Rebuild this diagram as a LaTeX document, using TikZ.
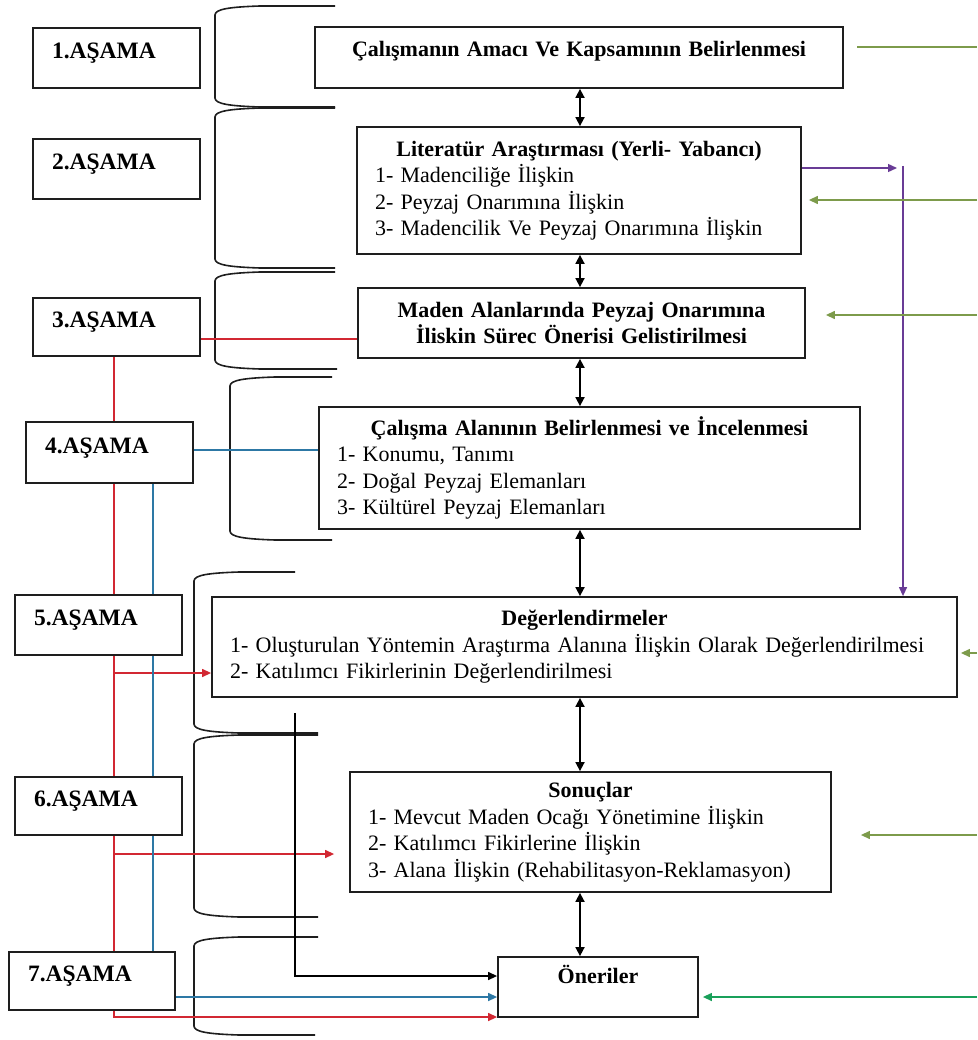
\documentclass[tikz,border=0pt]{standalone}
\usepackage{fontspec}
\setmainfont{Liberation Serif}
\usetikzlibrary{arrows.meta,backgrounds}
\definecolor{boxline}{RGB}{30,30,30}
\definecolor{redc}{RGB}{210,40,50}
\definecolor{bluec}{RGB}{45,120,165}
\definecolor{purc}{RGB}{105,60,150}
\definecolor{olivec}{RGB}{125,155,75}
\definecolor{greenc}{RGB}{25,160,90}
\newcommand\mybrk[5]{%
  \draw[brk] (#4,#2) -- (#1+45,#2) .. controls (#1+15,#2+1) and (#1,#2+3) .. (#1,#2+9)
    -- (#1,#3-9) .. controls (#1,#3-3) and (#1+15,#3-1) .. (#1+45,#3) -- (#5,#3);}
\begin{document}
\begin{tikzpicture}[x=1pt,y=-1pt,
  box/.style={draw=boxline, line width=1.8pt, fill=white, rectangle, inner sep=0pt},
  stage/.style={box, font=\fontsize{23.5}{27}\selectfont\bfseries, align=left,
     text width=129pt, inner xsep=19pt},
  mainbox/.style={box, font=\fontsize{22}{26.5}\selectfont, inner xsep=18pt},
  brk/.style={draw=boxline, line width=1.6pt},
  dbl/.style={draw=black, line width=1.7pt, {Triangle[length=9pt,width=9pt]}-{Triangle[length=9pt,width=9pt]}},
  redl/.style={draw=redc, line width=1.3pt},
  redarr/.style={redl, -{Triangle[length=9pt,width=8pt]}},
  bluel/.style={draw=bluec, line width=1.3pt},
  bluearr/.style={bluel, -{Triangle[length=9pt,width=8pt]}},
  blk/.style={draw=black, line width=1.3pt, -{Triangle[length=9pt,width=8pt]}},
  purarr/.style={draw=purc, line width=1.3pt, -{Triangle[length=9pt,width=8pt]}},
  grn/.style={draw=olivec, line width=1.3pt},
  grnarr/.style={grn, -{Triangle[length=9pt,width=8pt]}},
  grn2arr/.style={draw=greenc, line width=1.3pt, -{Triangle[length=9pt,width=8pt]}}
]
\useasboundingbox (0,0) rectangle (977,1040);

% stage boxes
\node[stage, minimum height=60pt] (s1) at (116.5,58) {\raisebox{5pt}[.7em][.2em]{1.AŞAMA}};
\node[stage, minimum height=60pt] (s2) at (116.5,169) {\raisebox{5pt}[.7em][.2em]{2.AŞAMA}};
\node[stage, minimum height=58pt] (s3) at (116.5,327) {\raisebox{5pt}[.7em][.2em]{3.AŞAMA}};
\node[stage, minimum height=61pt] (s4) at (109.5,452.5) {\raisebox{5pt}[.7em][.2em]{4.AŞAMA}};
\node[stage, minimum height=60pt] (s5) at (98.5,625) {\raisebox{5pt}[.7em][.2em]{5.AŞAMA}};
\node[stage, minimum height=58pt] (s6) at (98.5,806) {\raisebox{5pt}[.7em][.2em]{6.AŞAMA}};
\node[stage, minimum height=58pt, text width=128pt] (s7) at (92,981) {\raisebox{5pt}[.7em][.2em]{7.AŞAMA}};

% main boxes
\node[mainbox, text width=492pt, align=center, minimum height=61pt] (A) at (579,57.5)
  {\raisebox{6pt}[.7em][.2em]{\bfseries Çalışmanın Amacı Ve Kapsamının Belirlenmesi}};
\node[mainbox, text width=408pt, minimum height=127pt] (B) at (579,190.5)
  {{\centering\bfseries Literatür Araştırması (Yerli- Yabancı)\par}\raggedright
   1- Madenciliğe İlişkin\par 2- Peyzaj Onarımına İlişkin\par 3- Madencilik Ve Peyzaj Onarımına İlişkin};
\node[mainbox, text width=411pt, align=center, minimum height=70pt, font=\fontsize{22}{25.5}\selectfont\bfseries] (C) at (581.5,323)
  {Maden Alanlarında Peyzaj Onarımına\\İliskin Sürec Önerisi Gelistirilmesi};
\node[mainbox, text width=505pt, minimum height=122pt] (D) at (589.5,468)
  {{\centering\bfseries Çalışma Alanının Belirlenmesi ve İncelenmesi\par}\raggedright
   1- Konumu, Tanımı\par 2- Doğal Peyzaj Elemanları\par 3- Kültürel Peyzaj Elemanları};
\node[mainbox, text width=709pt, minimum height=100pt, inner xsep=18pt] (E) at (584.5,647)
  {{\centering\bfseries Değerlendirmeler\par}\raggedright
   1- Oluşturulan Yöntemin Araştırma Alanına İlişkin Olarak Değerlendirilmesi\par
   2- Katılımcı Fikirlerinin Değerlendirilmesi};
\node[mainbox, text width=445pt, minimum height=120pt] (F) at (590.5,832)
  {{\centering\bfseries Sonuçlar\par}\raggedright
   1- Mevcut Maden Ocağı Yönetimine İlişkin\par 2- Katılımcı Fikirlerine İlişkin\par
   3- Alana İlişkin (Rehabilitasyon-Reklamasyon)};
\node[mainbox, text width=164pt, align=center, minimum height=60pt] (G) at (598,987)
  {\raisebox{9pt}[.7em][.2em]{\bfseries Öneriler}};

% coordinates
\coordinate (ax) at (580,0);
\coordinate (rx) at (114,0);
\coordinate (ry3) at (0,339);
\coordinate (rc) at (114,1017);
\coordinate (r5) at (114,673);
\coordinate (r6) at (114,854);
\coordinate (by) at (0,450);
\coordinate (bx) at (153,0);
\coordinate (b7) at (0,997);
\coordinate (k1) at (295,713);
\coordinate (k2) at (295,976);
\coordinate (p1) at (897,168);
\coordinate (p2) at (903,166);
\coordinate (gr) at (977,0);
\coordinate (ga) at (857,47);
\coordinate (gb) at (977,200);
\coordinate (gc) at (977,315);
\coordinate (ge) at (977,653);
\coordinate (gf) at (977,835);
\coordinate (gg) at (977,997);

\begin{scope}[on background layer]
\fill[white] (0,0) rectangle (977,1040);
% braces
\mybrk{215}{6}{107}{335}{335}
\mybrk{215}{108}{268}{335}{335}
\mybrk{215}{272}{369}{335}{337}
\mybrk{230}{377}{540}{332}{332}
\mybrk{194}{572}{733}{295}{318}
\mybrk{194}{735}{917}{318}{318}
\mybrk{194}{937}{1035}{318}{315}
% red
\draw[redl] (s3.east |- ry3) -- (C.west |- ry3);
\draw[redarr] (rx |- s3.south) -- (rc) -- (G.west |- rc);
\draw[redarr] (r5) -- (E.west |- r5);
\draw[redarr, shorten >=15pt] (r6) -- (F.west |- r6);
% blue
\draw[bluel] (s4.east |- by) -- (D.west |- by);
\draw[bluel] (bx |- s4.south) -- (bx |- s7.north);
\draw[bluearr] (s7.east |- b7) -- (G.west |- b7);
% black
\draw[blk] (k1) -- (k2) -- (G.west |- k2);
% purple
\draw[purarr] (B.east |- p1) -- (p1);
\draw[purarr] (p2) -- (p2 |- E.north);
% green
\draw[grn] (ga) -- (gr |- ga);
\draw[grnarr, shorten >=7pt] (gb) -- (B.east |- gb);
\draw[grnarr, shorten >=20pt] (gc) -- (C.east |- gc);
\draw[grnarr, shorten >=3pt] (ge) -- (E.east |- ge);
\draw[grnarr, shorten >=29pt] (gf) -- (F.east |- gf);
\draw[grn2arr, shorten >=4pt] (gg) -- (G.east |- gg);
\end{scope}

% double arrows
\draw[dbl] (ax |- A.south) -- (ax |- B.north);
\draw[dbl] (ax |- B.south) -- (ax |- C.north);
\draw[dbl] (ax |- C.south) -- (ax |- D.north);
\draw[dbl] (ax |- D.south) -- (ax |- E.north);
\draw[dbl] (ax |- E.south) -- (ax |- F.north);
\draw[dbl] (ax |- F.south) -- (ax |- G.north);
\end{tikzpicture}
\end{document}
